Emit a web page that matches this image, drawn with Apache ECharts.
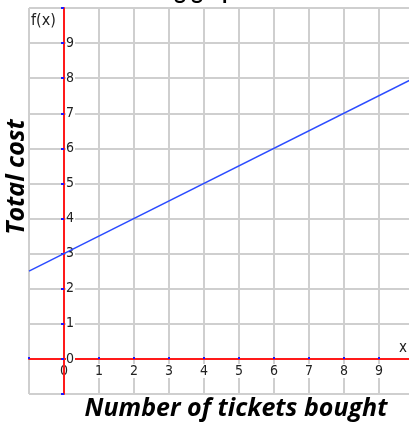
<!DOCTYPE html>
<html>
<head>
<meta charset="utf-8">
<script src="https://cdn.jsdelivr.net/npm/echarts@6/dist/echarts.min.js"></script>
<style>
  html, body { margin: 0; padding: 0; background: #fff; }
  #chart { width: 409px; height: 434px; }
</style>
</head>
<body>
<div id="chart"></div>
<script>
// 坐标轴范围和刻度
var xMin = -1, xMax = 10;
var yMin = -1, yMax = 10;
var xTicks = [0, 1, 2, 3, 4, 5, 6, 7, 8, 9];
var yTicks = [0, 1, 2, 3, 4, 5, 6, 7, 8, 9];
// 直线 f(x) = 0.5x + 3 的两个端点
var lineX = [-1, 10];
var lineY = [2.5, 8];

var lineData = lineX.map(function (x, i) { return [x, lineY[i]]; });

var labelFont = {
  color: '#222',
  fontFamily: 'DejaVu Sans Condensed',
  fontSize: 14,
  backgroundColor: '#fff'
};

// 只画网格线的轴
function gridAxis(min, max) {
  return {
    type: 'value', min: min, max: max, interval: 1, z: 0,
    axisLine: { show: false }, axisTick: { show: false }, axisLabel: { show: false },
    splitLine: { show: true, lineStyle: { color: '#cfcfcf', width: 2 } }
  };
}

var myChart = echarts.init(document.getElementById('chart'));
myChart.setOption({
  animation: false,
  grid: {
    left: 29, top: 8, width: 385, height: 386,
    outerBoundsMode: 'none',
    containLabel: false,
    show: true,
    borderColor: '#555',
    borderWidth: 1,
    backgroundColor: '#fff'
  },
  xAxis: [
    gridAxis(xMin, xMax),
    {
      type: 'value', position: 'bottom',
      min: xMin, max: xMax, interval: 1,
      z: 3,
      // x 轴放在 y=0 处（每格 35px）
      offset: -35,
      axisLine: { onZero: false, lineStyle: { color: '#ff1a1a', width: 2 } },
      axisTick: { show: true, inside: true, length: 2, lineStyle: { color: '#1a1aff', width: 2 } },
      axisLabel: Object.assign({}, labelFont, {
        margin: 5,
        padding: [0, 1, 0, 1],
        formatter: function (v) { return xTicks.indexOf(v) > -1 ? String(v) : ''; }
      }),
      splitLine: { show: false }
    }
  ],
  yAxis: [
    gridAxis(yMin, yMax),
    {
      type: 'value', position: 'left',
      min: yMin, max: yMax, interval: 1,
      z: 4,
      // y 轴放在 x=0 处
      offset: -35,
      axisLine: { onZero: false, lineStyle: { color: '#ff1a1a', width: 2 } },
      axisTick: { show: true, length: 3, lineStyle: { color: '#1a1aff', width: 2 } },
      axisLabel: Object.assign({}, labelFont, {
        inside: true,
        margin: 2,
        padding: [0, 1, 0, 0],
        formatter: function (v) { return yTicks.indexOf(v) > -1 ? String(v) : ''; }
      }),
      splitLine: { show: false }
    }
  ],
  graphic: [
    { type: 'text', left: 31, top: 13, z: 10,
      style: { text: 'f(x)', fill: '#222', font: '16px "DejaVu Sans Condensed"' } },
    { type: 'text', left: 399, top: 341, z: 10,
      style: { text: 'x', fill: '#222', font: '15px "DejaVu Sans Condensed"' } },
    { type: 'text', left: 95, top: -19, z: 10,
      style: { text: 'following graph:', fill: '#000', font: 'bold 22px Lato' } },
    { type: 'text', x: 236, y: 409, z: 10,
      style: { text: 'Number of tickets bought', fill: '#000', font: 'italic bold 25px "Open Sans"',
        textAlign: 'center', textVerticalAlign: 'middle' } },
    { type: 'text', x: 17, y: 177, rotation: Math.PI / 2, z: 10,
      style: { text: 'Total cost', fill: '#000', font: 'italic bold 25px "Open Sans"',
        textAlign: 'center', textVerticalAlign: 'middle' } }
  ],
  series: [
    {
      type: 'line',
      data: lineData,
      symbol: 'none',
      z: 5,
      lineStyle: { color: '#2b4bff', width: 1.5 }
    }
  ]
});
</script>
</body>
</html>
